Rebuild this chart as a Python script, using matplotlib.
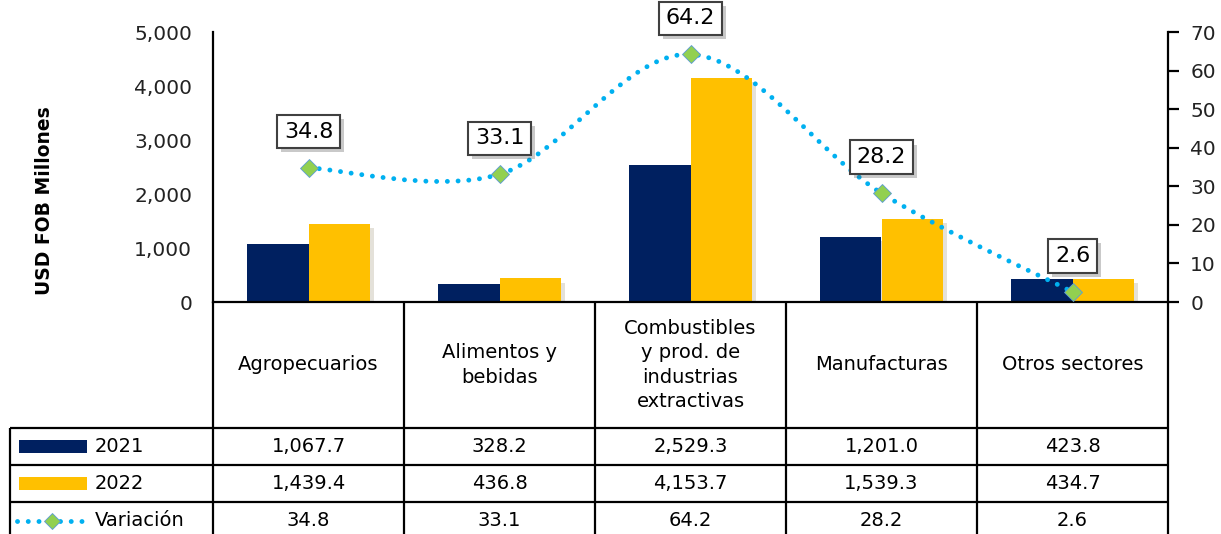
import numpy as np
import matplotlib.pyplot as plt
import matplotlib.patheffects as pe
from matplotlib.path import Path
from matplotlib.patches import PathPatch, Rectangle
from matplotlib.ticker import FuncFormatter

plt.rcParams["font.family"] = ["DejaVu Sans"]

# --- data -----------------------------------------------------------------
categories = ["Agropecuarios", "Alimentos y\nbebidas",
              "Combustibles\ny prod. de\nindustrias\nextractivas",
              "Manufacturas", "Otros sectores"]
v2021 = [1067.7, 328.2, 2529.3, 1201.0, 423.8]
v2022 = [1439.4, 436.8, 4153.7, 1539.3, 434.7]
variacion = [34.8, 33.1, 64.2, 28.2, 2.6]
series_names = ["2021", "2022", "Variación"]

NAVY = "#002060"
GOLD = "#FFC000"
LINE = "#00B0F0"
DIAM = "#92D050"

W, H = 1221, 534
AX_L, AX_R, AX_T, AX_B = 213, 1168, 32, 302
CAT_PX = (AX_R - AX_L) / len(categories)

fig = plt.figure(figsize=(W / 100, H / 100), dpi=100)


def px(xp):
    """figure pixel x -> category data x"""
    return -0.5 + (xp - AX_L) / CAT_PX


# --- table (drawn in a full-figure axes, x in category units, y in pixels)
ax_t = fig.add_axes([0, 0, 1, 1])
ax_t.set_xlim(px(0), px(W))
ax_t.set_ylim(H, 0)
ax_t.axis("off")

ROW_Y = [428, 465, 502, 539]
tl = dict(color="black", lw=1.6, solid_capstyle="butt")
for y in ROW_Y:
    ax_t.plot([px(10), 4.5], [y, y], **tl)
ax_t.plot([px(10), px(10)], [ROW_Y[0], H + 5], **tl)
for i in range(len(categories) + 1):
    ax_t.plot([i - 0.5, i - 0.5], [AX_B, H + 5], **tl)

for i, c in enumerate(categories):
    ax_t.text(i, 365, c, ha="center", va="center", fontsize=14,
              linespacing=1.35)
rows = [v2021, v2022, variacion]
for r, vals in enumerate(rows):
    yc = (ROW_Y[r] + ROW_Y[r + 1]) / 2
    for i, v in enumerate(vals):
        ax_t.text(i, yc, f"{v:,.1f}", ha="center", va="center", fontsize=14)
    ax_t.text(px(95), yc, series_names[r], ha="left", va="center", fontsize=14)

# legend keys
for r, col in enumerate([NAVY, GOLD]):
    yc = (ROW_Y[r] + ROW_Y[r + 1]) / 2
    ax_t.add_patch(Rectangle((px(19), yc - 6.5), px(87) - px(19), 13,
                             color=col, lw=0))
yc = (ROW_Y[2] + ROW_Y[3]) / 2
ax_t.plot([px(17), px(87)], [yc, yc], color=LINE, lw=3.5,
          linestyle=(0, (0.01, 2.2)), dash_capstyle="round")
ax_t.plot([px(52)], [yc], "D", ms=8, mfc=DIAM, mec="#5B9BD5", mew=0.6)

# --- bars -----------------------------------------------------------------
ax = fig.add_axes([AX_L / W, 1 - AX_B / H, (AX_R - AX_L) / W, (AX_B - AX_T) / H])
ax.patch.set_alpha(0)
x = np.arange(len(categories))
bw = 0.32
shadow = [pe.SimplePatchShadow(offset=(3, -3), alpha=0.15), pe.Normal()]
b1 = ax.bar(x - bw / 2, v2021, bw, color=NAVY, zorder=2)
b2 = ax.bar(x + bw / 2, v2022, bw, color=GOLD, zorder=2)
for b in list(b1) + list(b2):
    b.set_path_effects(shadow)

ax.set_xlim(-0.5, len(categories) - 0.5)
ax.set_ylim(0, 5000)
ax.set_yticks(range(0, 5001, 1000))
ax.yaxis.set_major_formatter(FuncFormatter(lambda v, p: f"{v:,.0f}"))
ax.tick_params(axis="y", length=0, pad=15, labelsize=14.5, labelcolor="#222222")
ax.set_xticks([])
for s in ["top", "right"]:
    ax.spines[s].set_visible(False)
ax.spines["left"].set_linewidth(1.6)
ax.spines["bottom"].set_linewidth(1.6)

fig.text(45 / W, 1 - 201 / H, "USD FOB Millones", rotation=90, ha="center",
         va="center", fontsize=13.5, fontweight="bold")

# --- variation line (smoothed like Excel, Catmull-Rom bezier) ---------------
ax2 = ax.twinx()
ax2.set_ylim(0, 70)
ax2.set_yticks(range(0, 71, 10))
ax2.tick_params(axis="y", length=8, width=1.6, labelsize=14.5, pad=8,
                labelcolor="#222222", direction="out")
for s in ["top", "left", "bottom"]:
    ax2.spines[s].set_visible(False)
ax2.spines["right"].set_linewidth(1.6)

pts = np.column_stack([x, variacion]).astype(float)
n = len(pts)
verts = [pts[0]]
codes = [Path.MOVETO]
for i in range(n - 1):
    p0 = pts[max(i - 1, 0)]
    p1 = pts[i]
    p2 = pts[i + 1]
    p3 = pts[min(i + 2, n - 1)]
    verts += [p1 + (p2 - p0) / 6, p2 - (p3 - p1) / 6, p2]
    codes += [Path.CURVE4] * 3
ax2.add_patch(PathPatch(Path(verts, codes), fill=False, edgecolor=LINE, lw=3.5,
                        linestyle=(0, (0.01, 2.2)), capstyle="round", zorder=3))
ax2.plot(x, variacion, "D", ms=9.5, mfc=DIAM, mec="#5B9BD5", mew=0.6, zorder=4)

for xi, v in zip(x, variacion):
    t = ax2.annotate(f"{v:.1f}", (xi, v), xytext=(0, 26), textcoords="offset points",
                     ha="center", va="center", fontsize=16, zorder=5,
                     bbox=dict(boxstyle="square,pad=0.3", fc="white",
                               ec="#404040", lw=1.5),
                     annotation_clip=False)
    t.get_bbox_patch().set_path_effects(
        [pe.SimplePatchShadow(offset=(3, -3), alpha=0.3), pe.Normal()])

fig.savefig("out.png", dpi=100)
